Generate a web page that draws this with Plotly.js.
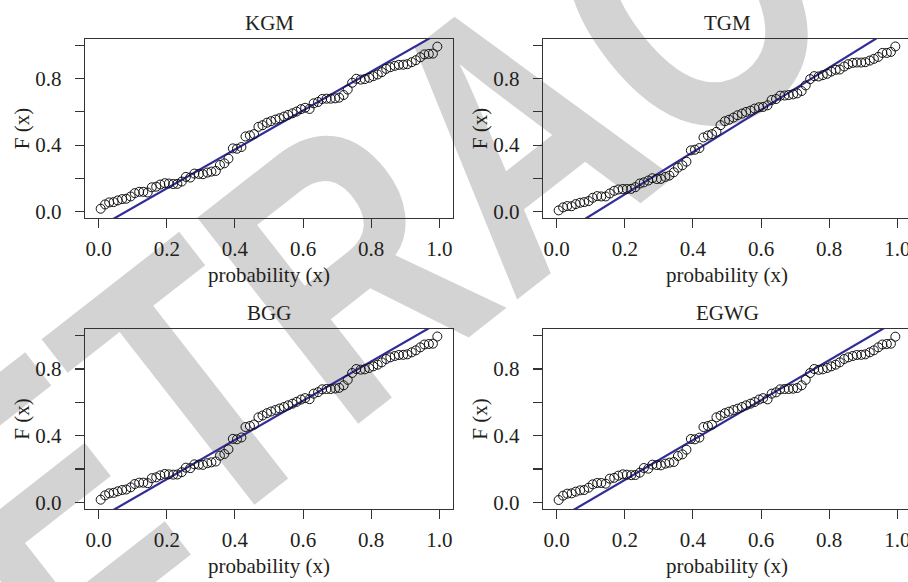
<!DOCTYPE html>
<html>
<head>
<meta charset="utf-8">
<script src="https://cdn.plot.ly/plotly-3.0.1.min.js"></script>
<style>
  html, body { margin: 0; padding: 0; width: 908px; height: 582px; overflow: hidden; background: #ffffff; }
  #wrap { position: relative; width: 908px; height: 582px; overflow: hidden; }
  #wm { position: absolute; left: 515px; top: 135px; transform: translate(-50%, -50%) rotate(-38deg) scaleX(0.78);
        font-family: "Liberation Sans", Arial, sans-serif; font-weight: bold; font-size: 380px;
        color: #d3d3d3; white-space: nowrap; line-height: 1; z-index: 0; }
  #chart { position: absolute; left: 0; top: 0; width: 916px; height: 582px; z-index: 1; }
</style>
</head>
<body>
<div id="wrap">
  <div id="wm">RETRACTED</div>
  <div id="chart"></div>
</div>
<script>
// ---- data ----
const panelTitles = ["KGM", "TGM", "BGG", "EGWG"];

const probX = [0.006,0.019,0.031,0.044,0.056,0.069,0.081,0.094,0.106,0.119,
               0.131,0.144,0.156,0.169,0.181,0.194,0.206,0.219,0.231,0.244,
               0.256,0.269,0.281,0.294,0.306,0.319,0.331,0.344,0.356,0.369,
               0.381,0.394,0.406,0.419,0.431,0.444,0.456,0.469,0.481,0.494,
               0.506,0.519,0.531,0.544,0.556,0.569,0.581,0.594,0.606,0.619,
               0.631,0.644,0.656,0.669,0.681,0.694,0.706,0.719,0.731,0.744,
               0.756,0.769,0.781,0.794,0.806,0.819,0.831,0.844,0.856,0.869,
               0.881,0.894,0.906,0.919,0.931,0.944,0.956,0.969,0.981,0.994];

const fKGM = [0.016,0.042,0.054,0.056,0.066,0.074,0.076,0.090,0.110,0.118,
              0.118,0.114,0.145,0.149,0.162,0.170,0.168,0.165,0.166,0.180,
              0.208,0.204,0.228,0.226,0.224,0.234,0.240,0.244,0.280,0.290,
              0.318,0.380,0.378,0.388,0.452,0.458,0.466,0.510,0.520,0.535,
              0.544,0.554,0.562,0.572,0.582,0.592,0.602,0.617,0.625,0.618,
              0.652,0.660,0.678,0.680,0.680,0.682,0.686,0.702,0.735,0.776,
              0.800,0.795,0.798,0.806,0.816,0.826,0.840,0.860,0.870,0.878,
              0.884,0.885,0.888,0.900,0.912,0.930,0.947,0.950,0.952,0.994];

const fTGM = [0.006,0.024,0.032,0.031,0.044,0.052,0.056,0.062,0.082,0.092,
              0.090,0.090,0.108,0.124,0.132,0.135,0.135,0.136,0.146,0.168,
              0.175,0.186,0.200,0.195,0.196,0.208,0.216,0.236,0.264,0.278,
              0.300,0.368,0.372,0.382,0.446,0.458,0.466,0.480,0.520,0.544,
              0.553,0.566,0.580,0.590,0.600,0.608,0.620,0.628,0.630,0.640,
              0.672,0.678,0.698,0.699,0.702,0.706,0.712,0.726,0.760,0.798,
              0.816,0.814,0.822,0.830,0.844,0.854,0.856,0.874,0.888,0.896,
              0.898,0.898,0.900,0.910,0.920,0.932,0.956,0.956,0.962,0.995];

const fBGG = [0.016,0.042,0.054,0.057,0.066,0.074,0.077,0.090,0.110,0.118,
              0.118,0.115,0.145,0.150,0.162,0.170,0.168,0.166,0.167,0.181,
              0.208,0.205,0.228,0.226,0.225,0.235,0.240,0.245,0.280,0.290,
              0.318,0.381,0.378,0.389,0.452,0.458,0.467,0.510,0.521,0.535,
              0.545,0.554,0.563,0.572,0.582,0.592,0.603,0.617,0.625,0.619,
              0.652,0.661,0.678,0.680,0.680,0.683,0.687,0.702,0.735,0.776,
              0.800,0.796,0.798,0.806,0.816,0.826,0.840,0.860,0.870,0.878,
              0.884,0.885,0.888,0.900,0.912,0.930,0.947,0.950,0.952,0.995];

const fEGWG = [0.014,0.040,0.052,0.054,0.064,0.072,0.074,0.088,0.108,0.116,
               0.116,0.112,0.142,0.147,0.160,0.168,0.166,0.163,0.164,0.178,
               0.206,0.202,0.226,0.224,0.222,0.232,0.238,0.242,0.278,0.288,
               0.316,0.380,0.378,0.388,0.452,0.458,0.466,0.510,0.520,0.535,
               0.544,0.554,0.562,0.572,0.582,0.592,0.602,0.617,0.625,0.618,
               0.652,0.660,0.678,0.680,0.680,0.682,0.686,0.702,0.735,0.776,
               0.800,0.795,0.798,0.806,0.816,0.826,0.840,0.860,0.870,0.878,
               0.884,0.885,0.888,0.900,0.912,0.930,0.947,0.950,0.952,0.994];

const fittedValues = [fKGM, fTGM, fBGG, fEGWG];

// reference line y = intercept + slope * x for each panel
const lineIntercept = [-0.096, -0.152, -0.097, -0.105];
const lineSlope     = [1.174, 1.274, 1.178, 1.197];

const tickVals = [0, 0.2, 0.4, 0.6, 0.8, 1.0];
const xTickText = ["0.0", "0.2", "0.4", "0.6", "0.8", "1.0"];
const yTickText = ["0.0", "", "0.4", "", "0.8", ""];
const xLabel = "probability (x)";
const yLabel = "F (x)";

// ---- layout helpers ----
const W = 916, H = 582;
const fontFam = "'Liberation Serif', 'DejaVu Serif', serif";
const txtColor = "#231f20";
const FS = 21;
const boxes = [ // [left, right, top, bottom] in px
  [85, 453, 39, 218],
  [543, 911, 39, 218],
  [85, 453, 329, 509],
  [543, 911, 329, 509]
];

const traces = [];
const layout = {
  width: W, height: H,
  margin: {l: 0, r: 0, t: 0, b: 0},
  paper_bgcolor: "rgba(0,0,0,0)",
  plot_bgcolor: "rgba(0,0,0,0)",
  showlegend: false,
  font: {family: fontFam, color: txtColor, size: FS},
  annotations: []
};

for (let i = 0; i < 4; i++) {
  const sfx = i === 0 ? "" : String(i + 1);
  const xa = "x" + sfx, ya = "y" + sfx;
  const b = boxes[i];
  const lineX = [-0.04, 1.04];
  traces.push({
    x: lineX,
    y: lineX.map(v => lineIntercept[i] + lineSlope[i] * v),
    xaxis: xa, yaxis: ya, mode: "lines", type: "scatter",
    line: {color: "#302c98", width: 2.2}, hoverinfo: "skip"
  });
  traces.push({
    x: probX, y: fittedValues[i],
    xaxis: xa, yaxis: ya, mode: "markers", type: "scatter",
    marker: {symbol: "circle-open", size: 9, color: "#111111", line: {width: 1, color: "#111111"}},
    cliponaxis: false
  });
  const axCommon = {
    showgrid: false, zeroline: false, showline: true, mirror: true,
    linecolor: "#333333", linewidth: 1.3,
    ticks: "outside", ticklen: 9, tickwidth: 1.1, tickcolor: "#333333",
    tickfont: {family: fontFam, size: FS, color: txtColor},
    tickmode: "array", tickvals: tickVals, fixedrange: true
  };
  layout["xaxis" + sfx] = Object.assign({}, axCommon, {
    domain: [b[0] / W, b[1] / W],
    range: [-0.04, 1.04],
    anchor: ya,
    ticktext: xTickText,
    ticklabelstandoff: 2,
    title: {text: xLabel, font: {family: fontFam, size: FS, color: txtColor}, standoff: 7}
  });
  layout["yaxis" + sfx] = Object.assign({}, axCommon, {
    domain: [(H - b[3]) / H, (H - b[2]) / H],
    range: [-0.04, 1.04],
    anchor: xa,
    ticktext: yTickText,
    ticklabelstandoff: 9,
    title: {text: yLabel, font: {family: fontFam, size: FS, color: txtColor}, standoff: 0}
  });
  layout.annotations.push({
    text: panelTitles[i], xref: "paper", yref: "paper",
    x: (b[0] + b[1]) / 2 / W, y: (H - (b[2] - 16)) / H,
    xanchor: "center", yanchor: "middle", showarrow: false,
    font: {family: fontFam, size: FS, color: txtColor}
  });
}

Plotly.newPlot("chart", traces, layout, {displayModeBar: false, staticPlot: true});
</script>
</body>
</html>
